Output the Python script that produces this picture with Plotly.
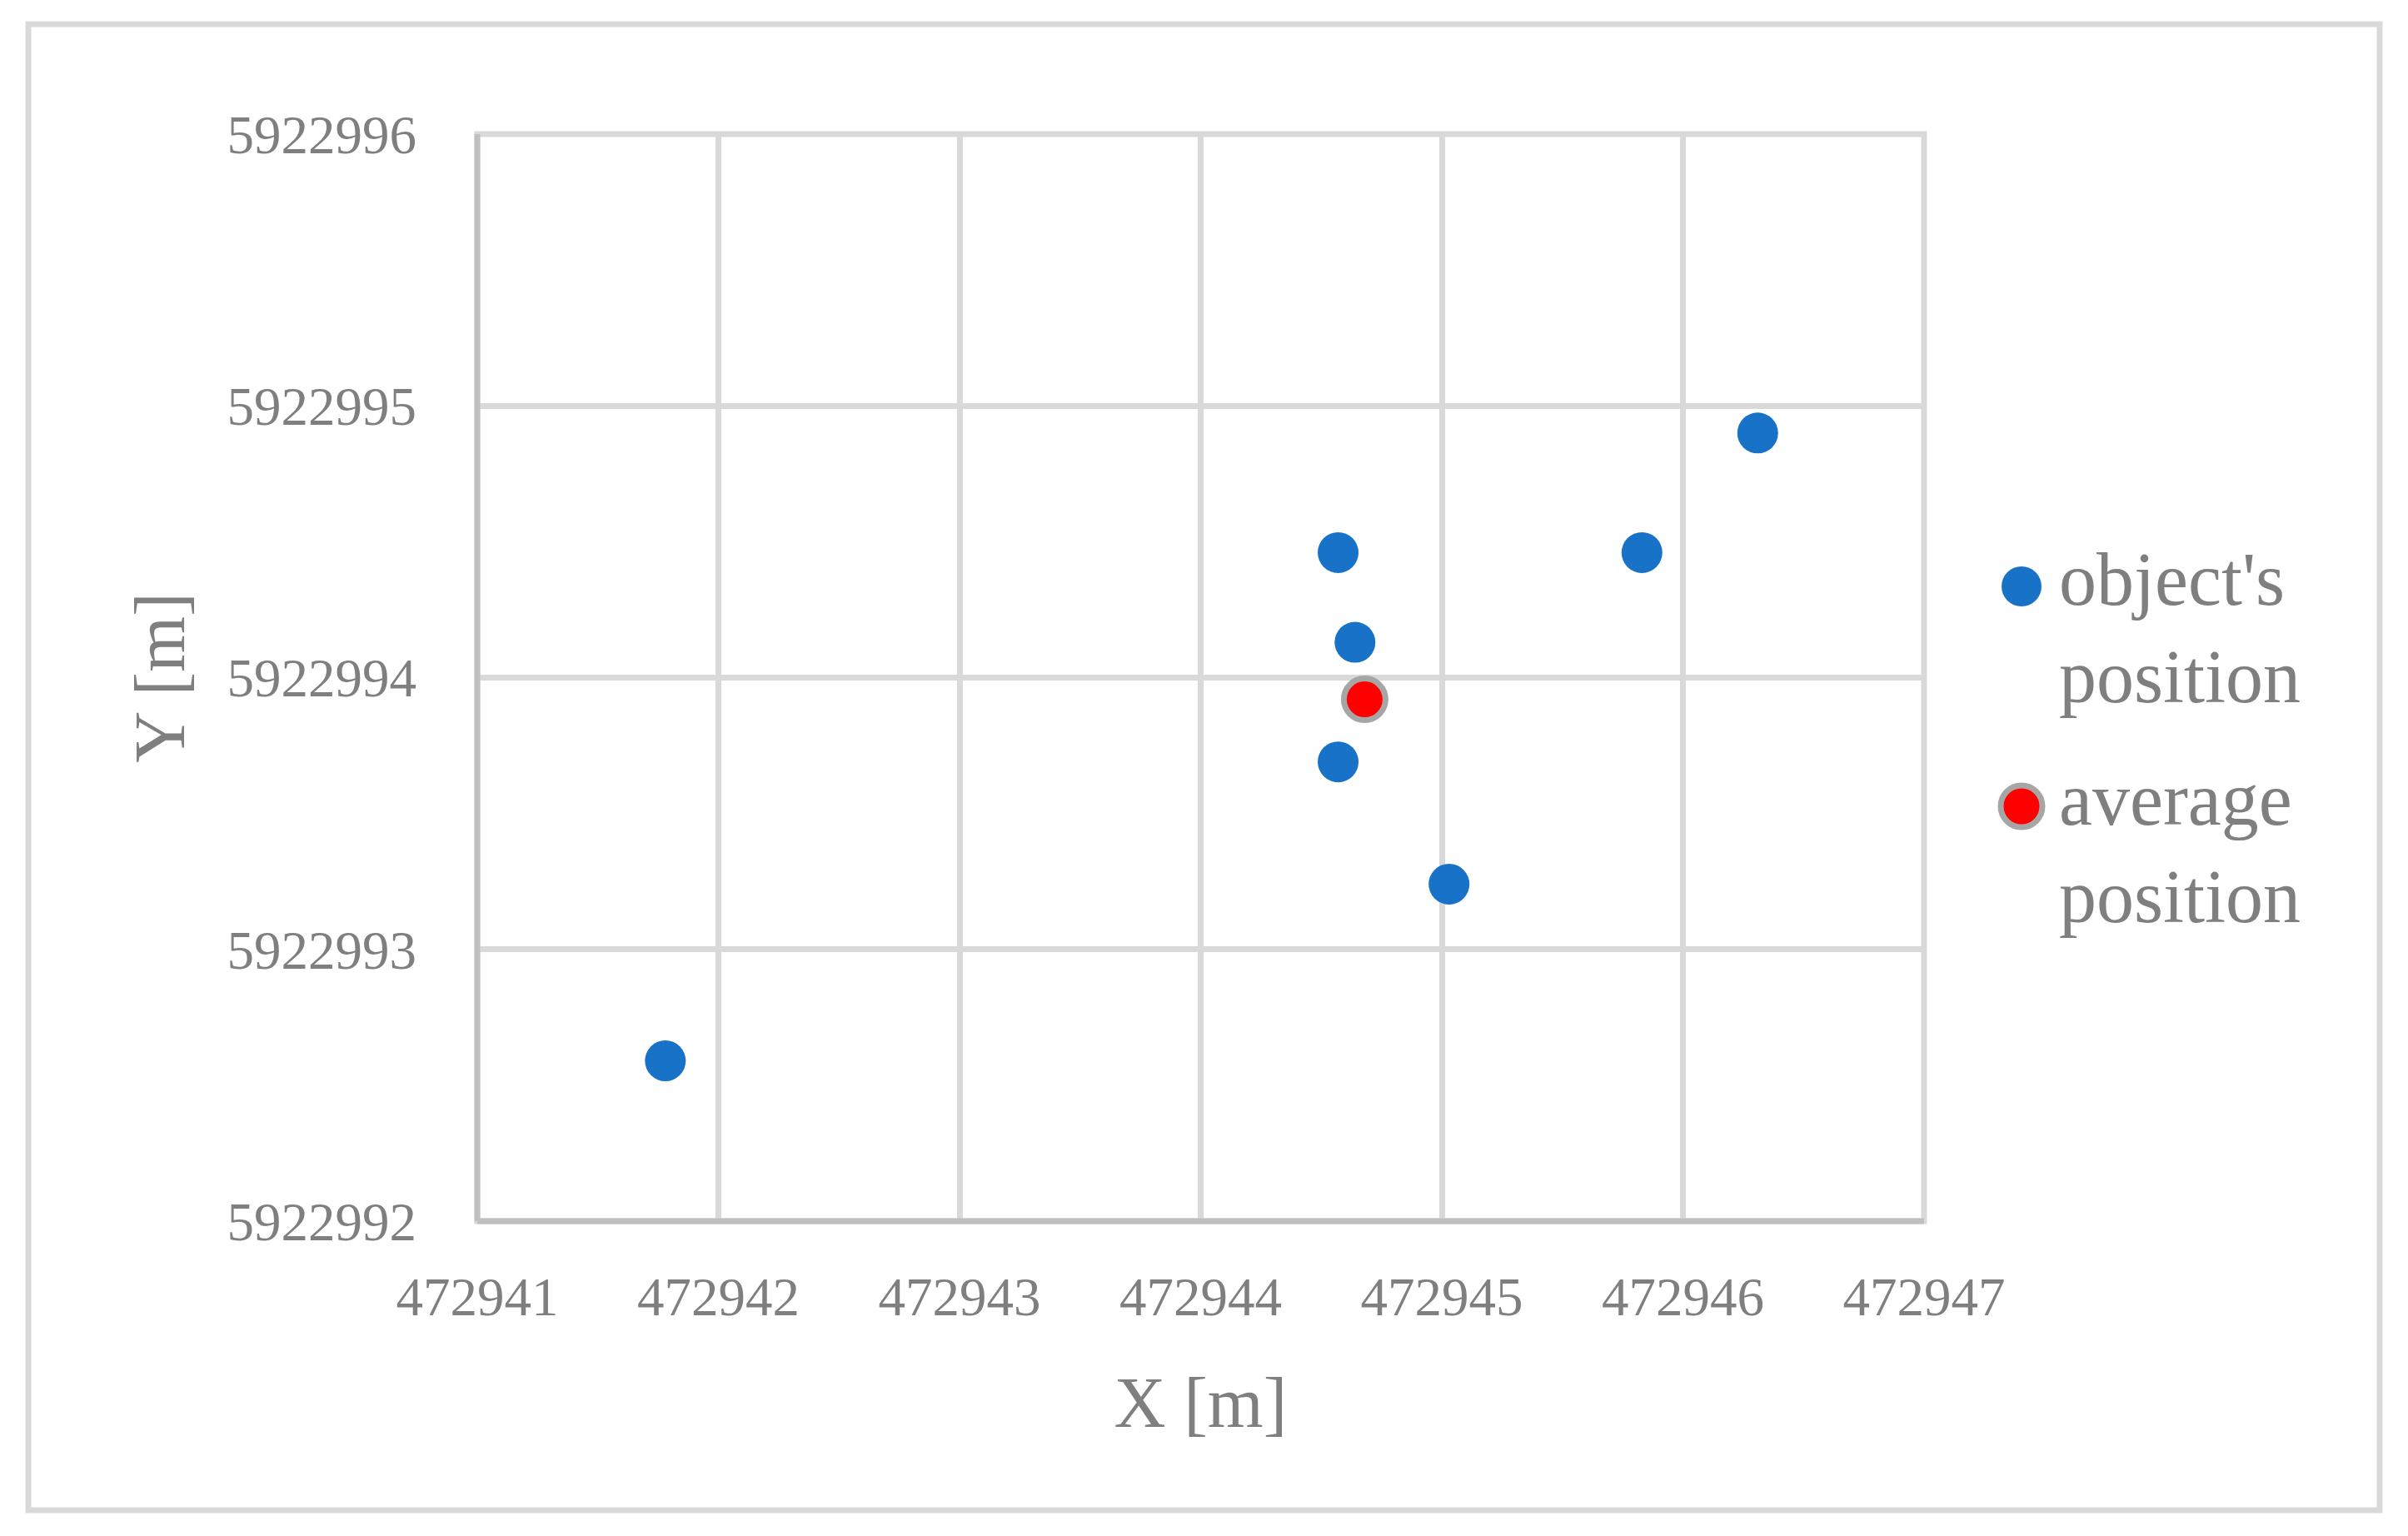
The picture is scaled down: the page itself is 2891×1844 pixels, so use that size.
import plotly.graph_objects as go

# object positions
obj_x = [472941.78, 472944.57, 472944.64, 472944.57, 472945.03, 472945.83, 472946.31]
obj_y = [5922992.59, 5922994.46, 5922994.13, 5922993.69, 5922993.24, 5922994.46, 5922994.90]

avg_x = [472944.68]
avg_y = [5922993.92]

x_ticks = [472941, 472942, 472943, 472944, 472945, 472946, 472947]
y_ticks = [5922992, 5922993, 5922994, 5922995, 5922996]

BLUE = "#1872c8"
RED = "#ff0000"
GREY_TXT = "#7f7f7f"
GRID = "#d9d9d9"
AXIS = "#bfbfbf"
FONT = "Liberation Serif"

# page body has an 8px margin, so the figure is a bit smaller than the window
OFF = 8
W, H = 2891 - 2 * OFF, 1844 - 2 * OFF
L, T = 573 - OFF, 161 - OFF
R = OFF + W - 2310
B = OFF + H - 1466
pw, ph = W - L - R, H - T - B


def px_to_paper(px, py):
    # screen pixel -> paper coords
    return (px - OFF - L) / pw, (OFF + H - B - py) / ph


fig = go.Figure()
fig.add_scatter(
    x=obj_x, y=obj_y, mode="markers", name="object's position",
    marker=dict(size=49, color=BLUE), showlegend=False,
)
fig.add_scatter(
    x=avg_x, y=avg_y, mode="markers", name="average position",
    marker=dict(size=50, color=RED, line=dict(color="#a6a6a6", width=7)),
    showlegend=False,
)

axis_common = dict(
    showgrid=True, gridcolor=GRID, gridwidth=7,
    showline=False,
    tickfont=dict(family=FONT, size=65, color=GREY_TXT),
    tickformat="d", zeroline=False, ticks="",
)
fig.update_xaxes(
    range=[x_ticks[0], x_ticks[-1]], tickvals=x_ticks,
    title=dict(text="X [m]", font=dict(family=FONT, size=86, color=GREY_TXT), standoff=60),
    ticklabelstandoff=47, **axis_common,
)
fig.update_yaxes(
    range=[y_ticks[0], y_ticks[-1]], tickvals=y_ticks,
    title=dict(text="Y [m]", font=dict(family=FONT, size=86, color=GREY_TXT), standoff=22),
    ticklabelstandoff=72, **axis_common,
)

# plot area frame: grid colour top/right, darker axis lines left/bottom
fig.add_shape(type="rect", xref="paper", yref="paper", x0=0, x1=1, y0=0, y1=1,
              line=dict(color=GRID, width=7), layer="below")
fig.add_shape(type="line", xref="paper", yref="paper", x0=0, x1=0, y0=0, y1=1,
              line=dict(color=AXIS, width=7))
fig.add_shape(type="line", xref="paper", yref="paper", x0=0, x1=1, y0=0, y1=0,
              line=dict(color=AXIS, width=7))

# outer chart border
bx0, by0 = px_to_paper(34, 29)
bx1, by1 = px_to_paper(2857, 1813)
fig.add_shape(type="rect", xref="paper", yref="paper", x0=bx0, x1=bx1, y0=by1, y1=by0,
              line=dict(color=GRID, width=7))

# legend drawn by hand so the symbols keep their size
legend_items = [
    ("object's<br>position", 704, dict(fillcolor=BLUE, line=dict(width=0)), 24),
    ("average<br>position", 968, dict(fillcolor=RED, line=dict(color="#a6a6a6", width=7)), 25),
]
for text, cy, style, r in legend_items:
    sx, sy = px_to_paper(2427, cy)
    fig.add_shape(type="circle", xref="paper", yref="paper",
                  xsizemode="pixel", ysizemode="pixel", xanchor=sx, yanchor=sy,
                  x0=-r, x1=r, y0=-r, y1=r, **style)
    tx, ty = px_to_paper(2470, cy - 60)
    fig.add_annotation(x=tx, y=ty, xref="paper", yref="paper", text=text,
                       xanchor="left", yanchor="top", align="left", showarrow=False,
                       font=dict(family=FONT, size=90, color=GREY_TXT))

fig.update_layout(
    width=W, height=H,
    margin=dict(l=L, r=R, t=T, b=B),
    paper_bgcolor="white", plot_bgcolor="white",
    showlegend=False,
)

fig.write_html("out.html")
